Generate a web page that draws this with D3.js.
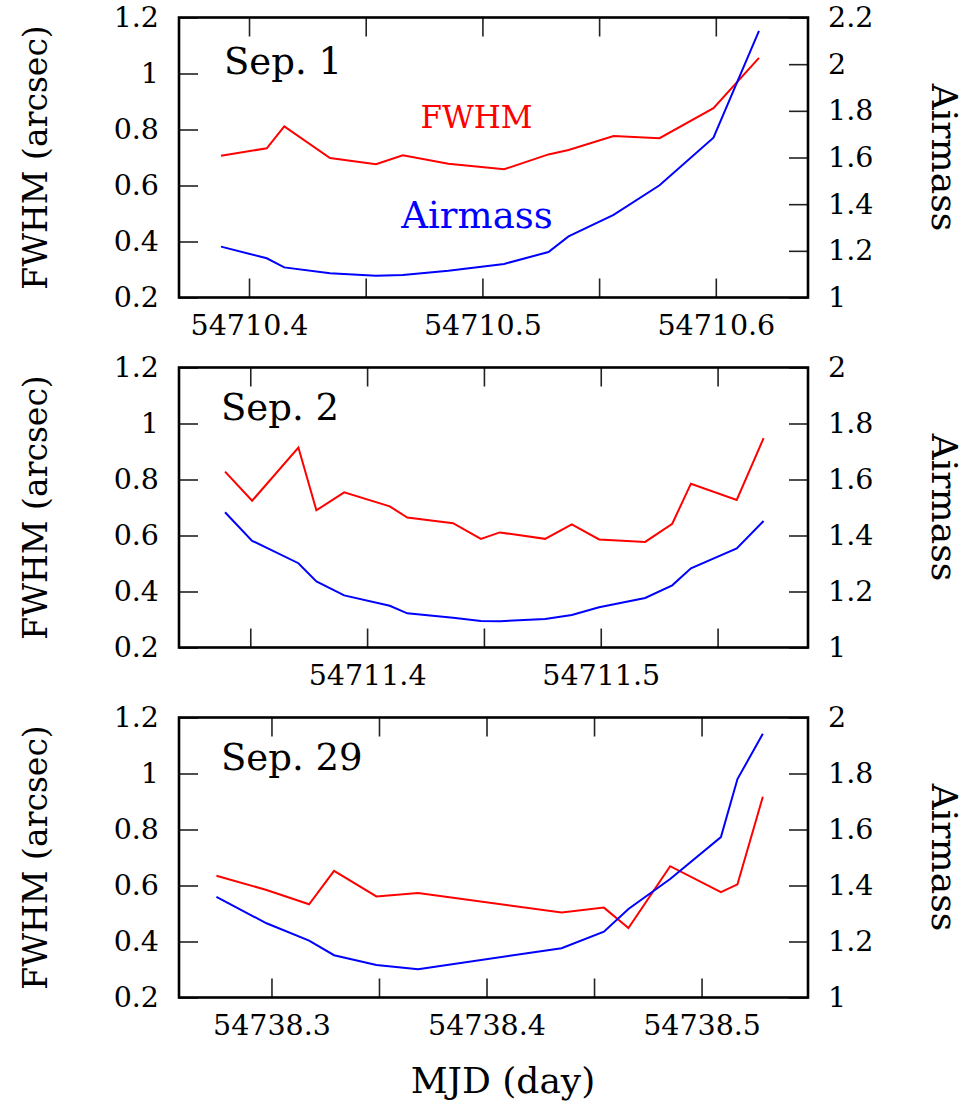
<!DOCTYPE html>
<html>
<head>
<meta charset="utf-8">
<script src="https://cdn.jsdelivr.net/npm/d3@7/dist/d3.min.js"></script>
<style>
  html, body { margin: 0; padding: 0; background: #fff; }
  svg text { font-family: "DejaVu Serif", serif; fill: #000; }
</style>
</head>
<body>
<svg id="chart" width="969" height="1106"></svg>
<script>
// Night of Sep. 1 (MJD 54710)
const sep1Mjd = [54710.3880, 54710.4076, 54710.4151, 54710.4347, 54710.4544, 54710.4659,
  54710.4854, 54710.5093, 54710.5283, 54710.5369, 54710.5562, 54710.5759, 54710.5990, 54710.6185];
const sep1Fwhm = [0.706, 0.733, 0.811, 0.698, 0.676, 0.708, 0.678, 0.658, 0.711, 0.727,
  0.777, 0.769, 0.876, 1.056];
const sep1Airmass = [1.218, 1.168, 1.129, 1.104, 1.093, 1.096, 1.115, 1.144, 1.195, 1.262,
  1.354, 1.481, 1.685, 2.143];

// Night of Sep. 2 (MJD 54711)
const sep2Mjd = [54711.3392, 54711.3508, 54711.3706, 54711.3783, 54711.3902, 54711.4097,
  54711.4172, 54711.4368, 54711.4487, 54711.4568, 54711.4762, 54711.4876, 54711.4993,
  54711.5190, 54711.5306, 54711.5386, 54711.5582, 54711.5697];
const sep2Fwhm = [0.828, 0.724, 0.914, 0.690, 0.754, 0.704, 0.664, 0.644, 0.588, 0.611,
  0.588, 0.640, 0.586, 0.577, 0.642, 0.785, 0.727, 0.948];
const sep2Airmass = [1.483, 1.381, 1.301, 1.236, 1.186, 1.149, 1.122, 1.106, 1.095, 1.094,
  1.102, 1.116, 1.144, 1.177, 1.222, 1.283, 1.354, 1.452];

// Night of Sep. 29 (MJD 54738)
const sep29Mjd = [54738.2744, 54738.2977, 54738.3175, 54738.3291, 54738.3488, 54738.3682,
  54738.4349, 54738.4546, 54738.4660, 54738.4854, 54738.5090, 54738.5167, 54738.5285];
const sep29Fwhm = [0.635, 0.584, 0.533, 0.652, 0.561, 0.573, 0.504, 0.521, 0.448, 0.669,
  0.576, 0.604, 0.917];
const sep29Airmass = [1.359, 1.265, 1.203, 1.151, 1.116, 1.101, 1.176, 1.235, 1.316, 1.423,
  1.573, 1.780, 1.942];

// Axis ranges and ticks
const panelTitles = ["Sep. 1", "Sep. 2", "Sep. 29"];
const mjdDomains = [[54710.370, 54710.6395], [54711.3195, 54711.5887], [54738.257, 54738.5495]];
const mjdTicks = [
  [54710.40, 54710.45, 54710.50, 54710.55, 54710.60],
  [54711.35, 54711.40, 54711.45, 54711.50, 54711.55],
  [54738.30, 54738.35, 54738.40, 54738.45, 54738.50]
];
const fwhmDomain = [0.2, 1.2];
const fwhmTicks = [0.2, 0.4, 0.6, 0.8, 1.0, 1.2];
const airmassDomains = [[1, 2.2], [1, 2], [1, 2]];
const airmassTicks = [
  [1, 1.2, 1.4, 1.6, 1.8, 2, 2.2],
  [1, 1.2, 1.4, 1.6, 1.8, 2],
  [1, 1.2, 1.4, 1.6, 1.8, 2]
];

const panelData = [
  { mjd: sep1Mjd, fwhm: sep1Fwhm, air: sep1Airmass },
  { mjd: sep2Mjd, fwhm: sep2Fwhm, air: sep2Airmass },
  { mjd: sep29Mjd, fwhm: sep29Fwhm, air: sep29Airmass }
];

const svg = d3.select("#chart");
const left = 179, right = 808, plotH = 280;
const tops = [17.5, 367.5, 717.5];
const tickLen = 19;
const numFmt = d3.format("~g");
const mjdFmt = d => (Math.abs(d * 10 - Math.round(d * 10)) < 1e-6) ? d3.format(".1f")(d) : "";

function styleAxis(g) {
  g.select(".domain").remove();
  g.selectAll(".tick line").attr("stroke", "#222").attr("stroke-width", 1.6);
  g.selectAll(".tick text").attr("font-size", 28.5).attr("fill", "#000");
}

panelData.forEach((p, i) => {
  const top = tops[i];
  const g = svg.append("g").attr("transform", `translate(0,${top})`);

  const x = d3.scaleLinear().domain(mjdDomains[i]).range([left, right]);
  const yF = d3.scaleLinear().domain(fwhmDomain).range([plotH, 0]);
  const yA = d3.scaleLinear().domain(airmassDomains[i]).range([plotH, 0]);

  // Axes: ticks point inward on all four sides
  g.append("g").attr("transform", `translate(0,${plotH})`)
    .call(d3.axisBottom(x).tickValues(mjdTicks[i]).tickFormat(mjdFmt)
      .tickSizeInner(-tickLen).tickSizeOuter(0).tickPadding(17))
    .call(styleAxis);
  g.append("g")
    .call(d3.axisTop(x).tickValues(mjdTicks[i]).tickFormat("")
      .tickSizeInner(-tickLen).tickSizeOuter(0))
    .call(styleAxis);
  g.append("g").attr("transform", `translate(${left},0)`)
    .call(d3.axisLeft(yF).tickValues(fwhmTicks).tickFormat(numFmt)
      .tickSizeInner(-tickLen).tickSizeOuter(0).tickPadding(20))
    .call(styleAxis);
  g.append("g").attr("transform", `translate(${right},0)`)
    .call(d3.axisRight(yA).tickValues(airmassTicks[i]).tickFormat(numFmt)
      .tickSizeInner(-tickLen).tickSizeOuter(0).tickPadding(20))
    .call(styleAxis);

  // Frame
  g.append("rect").attr("x", left).attr("y", 0)
    .attr("width", right - left).attr("height", plotH)
    .attr("fill", "none").attr("stroke", "#000").attr("stroke-width", 2.6);

  // Series
  const idx = d3.range(p.mjd.length);
  g.append("path")
    .attr("d", d3.line().x(k => x(p.mjd[k])).y(k => yF(p.fwhm[k]))(idx))
    .attr("fill", "none").attr("stroke", "#ff0000").attr("stroke-width", 2);
  g.append("path")
    .attr("d", d3.line().x(k => x(p.mjd[k])).y(k => yA(p.air[k]))(idx))
    .attr("fill", "none").attr("stroke", "#0000ff").attr("stroke-width", 2);

  // Night label
  g.append("text").attr("x", i === 0 ? 224 : 221).attr("y", i === 0 ? 56.5 : 52)
    .attr("font-size", 37).text(panelTitles[i]);

  // Axis titles
  g.append("text")
    .attr("transform", `translate(47,${plotH / 2}) rotate(-90)`)
    .attr("text-anchor", "middle").attr("font-size", 33)
    .text("FWHM (arcsec)");
  g.append("text")
    .attr("transform", `translate(932,${plotH / 2}) rotate(90)`)
    .attr("text-anchor", "middle").attr("font-size", 36)
    .text("Airmass");

  if (i === 0) {
    g.append("text").attr("x", 476.5).attr("y", 128 - top).attr("text-anchor", "middle")
      .attr("font-size", 31).style("fill", "#ff0000").text("FWHM");
    g.append("text").attr("x", 477).attr("y", 228 - top).attr("text-anchor", "middle")
      .attr("font-size", 37).style("fill", "#0000ff").text("Airmass");
  }
});

svg.append("text").attr("x", 503).attr("y", 1093).attr("text-anchor", "middle")
  .attr("font-size", 36).text("MJD (day)");
</script>
</body>
</html>
